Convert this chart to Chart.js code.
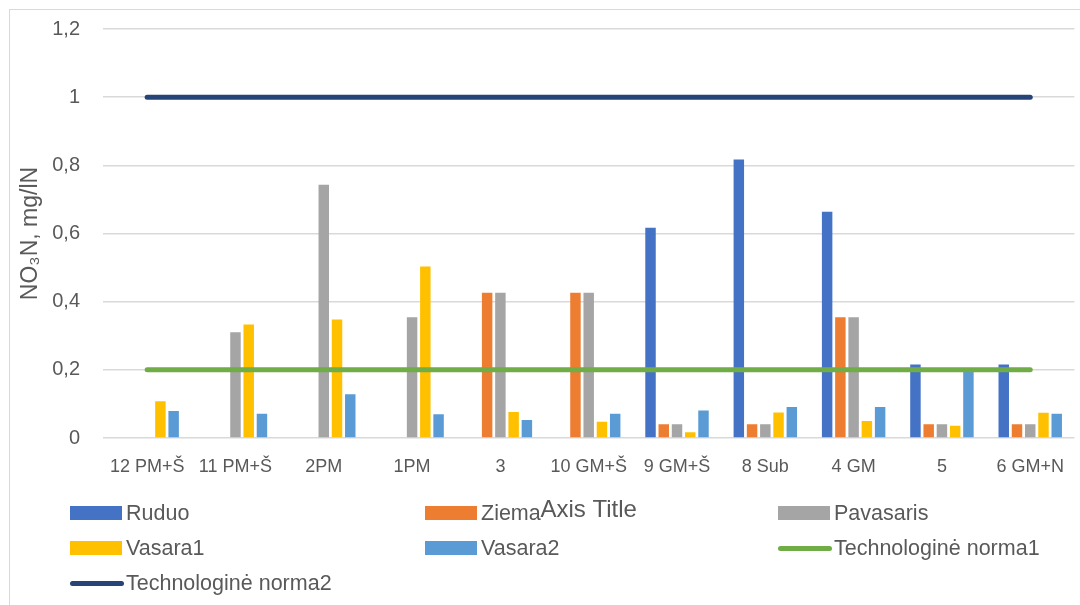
<!DOCTYPE html>
<html><head><meta charset="utf-8">
<script src="https://cdn.jsdelivr.net/npm/chart.js@4"></script>
<style>
html,body{margin:0;padding:0;background:#fff;overflow:hidden;width:1080px;height:605px;}
#frame{position:absolute;left:9px;top:9px;width:1100px;height:700px;border:1px solid #d9d9d9;box-sizing:border-box;}
#wrap{position:absolute;left:0;top:-6px;width:1082px;height:535px;}
#legend{position:absolute;left:0;top:0;width:1080px;height:605px;pointer-events:none;font-family:"Liberation Sans",Arial,sans-serif;font-size:21.5px;color:#595959;}
.li{position:absolute;display:flex;align-items:center;height:26px;white-space:nowrap;}
.box{width:52px;height:14px;margin-right:4px;}
.ln{width:54px;height:5px;border-radius:3px;margin-right:2px;}
</style></head>
<body>
<div id="frame"></div>
<div id="wrap"><canvas id="c"></canvas></div>
<div id="legend"></div>
<script>
const categories = ['12 PM+Š','11 PM+Š','2PM','1PM','3','10 GM+Š','9 GM+Š','8 Sub','4 GM','5','6 GM+N'];
const ruduo     = [0,0,0,0,0,0,0.617,0.817,0.664,0.216,0.216];
const ziema     = [0,0,0,0,0.426,0.426,0.04,0.04,0.354,0.04,0.04];
const pavasaris = [0,0.31,0.743,0.354,0.426,0.426,0.04,0.04,0.354,0.04,0.04];
const vasara1   = [0.108,0.333,0.348,0.503,0.076,0.048,0.017,0.075,0.05,0.036,0.074];
const vasara2   = [0.079,0.071,0.128,0.07,0.053,0.071,0.081,0.091,0.091,0.198,0.071];
const norma1    = [0.2,0.2,0.2,0.2,0.2,0.2,0.2,0.2,0.2,0.2,0.2];
const norma2    = [1,1,1,1,1,1,1,1,1,1,1];
const yTicks    = [0,0.2,0.4,0.6,0.8,1,1.2];

const FONT = '"Liberation Sans", Arial, sans-serif';
const TXT = '#595959';
function bar(label, data, color){
  return {type:'bar', label, data, backgroundColor:color, borderWidth:0, barPercentage:0.79, categoryPercentage:0.75, order:2};
}
function line(label, data, color){
  return {type:'line', label, data, borderColor:color, backgroundColor:color, borderWidth:5, pointRadius:0, borderCapStyle:'round', fill:false, order:1};
}
const datasets = [
  bar('Ruduo', ruduo, '#4472C4'),
  bar('Ziema', ziema, '#ED7D31'),
  bar('Pavasaris', pavasaris, '#A5A5A5'),
  bar('Vasara1', vasara1, '#FFC000'),
  bar('Vasara2', vasara2, '#5B9BD5'),
  line('Technologinė norma1', norma1, '#70AD47'),
  line('Technologinė norma2', norma2, '#264478')
];
const fmt = v => Number(v.toFixed(1)).toString().replace('.', ',');

const chart = new Chart(document.getElementById('c'), {
  type:'bar',
  data:{labels:categories, datasets},
  options:{
    responsive:true, maintainAspectRatio:false, animation:false,
    layout:{padding:{left:13, top:16, right:0, bottom:0}},
    plugins:{legend:{display:false}, tooltip:{enabled:false}},
    scales:{
      x:{
        afterFit: s => { s.height = 91; },
        grid:{display:false, drawTicks:false}, border:{display:false},
        ticks:{color:TXT, font:{family:FONT, size:18}, padding:18, autoSkip:false, maxRotation:0, minRotation:0},
        title:{display:true, text:'Axis Title', color:TXT, font:{family:FONT, size:24}, padding:{top:4, bottom:4}}
      },
      y:{
        min:0, max:1.2,
        afterFit: s => { s.width = 90; },
        afterBuildTicks: s => { s.ticks = yTicks.map(v => ({value:v})); },
        grid:{color:'#d9d9d9', lineWidth:1.5, drawTicks:false}, border:{display:false},
        ticks:{color:TXT, font:{family:FONT, size:20}, padding:23, callback:v => fmt(v)},
        title:{display:true, text:'NO₃N, mg/lN', color:TXT, font:{family:FONT, size:23}, padding:{top:4, bottom:4}}
      }
    }
  }
});

// grid legend built from the chart's datasets
const cols = [70, 425, 778], rows = [513, 548, 583];
const leg = document.getElementById('legend');
datasets.forEach((d, i) => {
  const el = document.createElement('div');
  el.className = 'li';
  el.style.left = cols[i % 3] + 'px';
  el.style.top = (rows[Math.floor(i / 3)] - 13) + 'px';
  const sw = document.createElement('div');
  if (d.type === 'line') { sw.className = 'ln'; sw.style.background = d.borderColor; }
  else { sw.className = 'box'; sw.style.background = d.backgroundColor; }
  el.appendChild(sw);
  const t = document.createElement('span');
  t.textContent = d.label;
  el.appendChild(t);
  leg.appendChild(el);
});
</script>
</body></html>
